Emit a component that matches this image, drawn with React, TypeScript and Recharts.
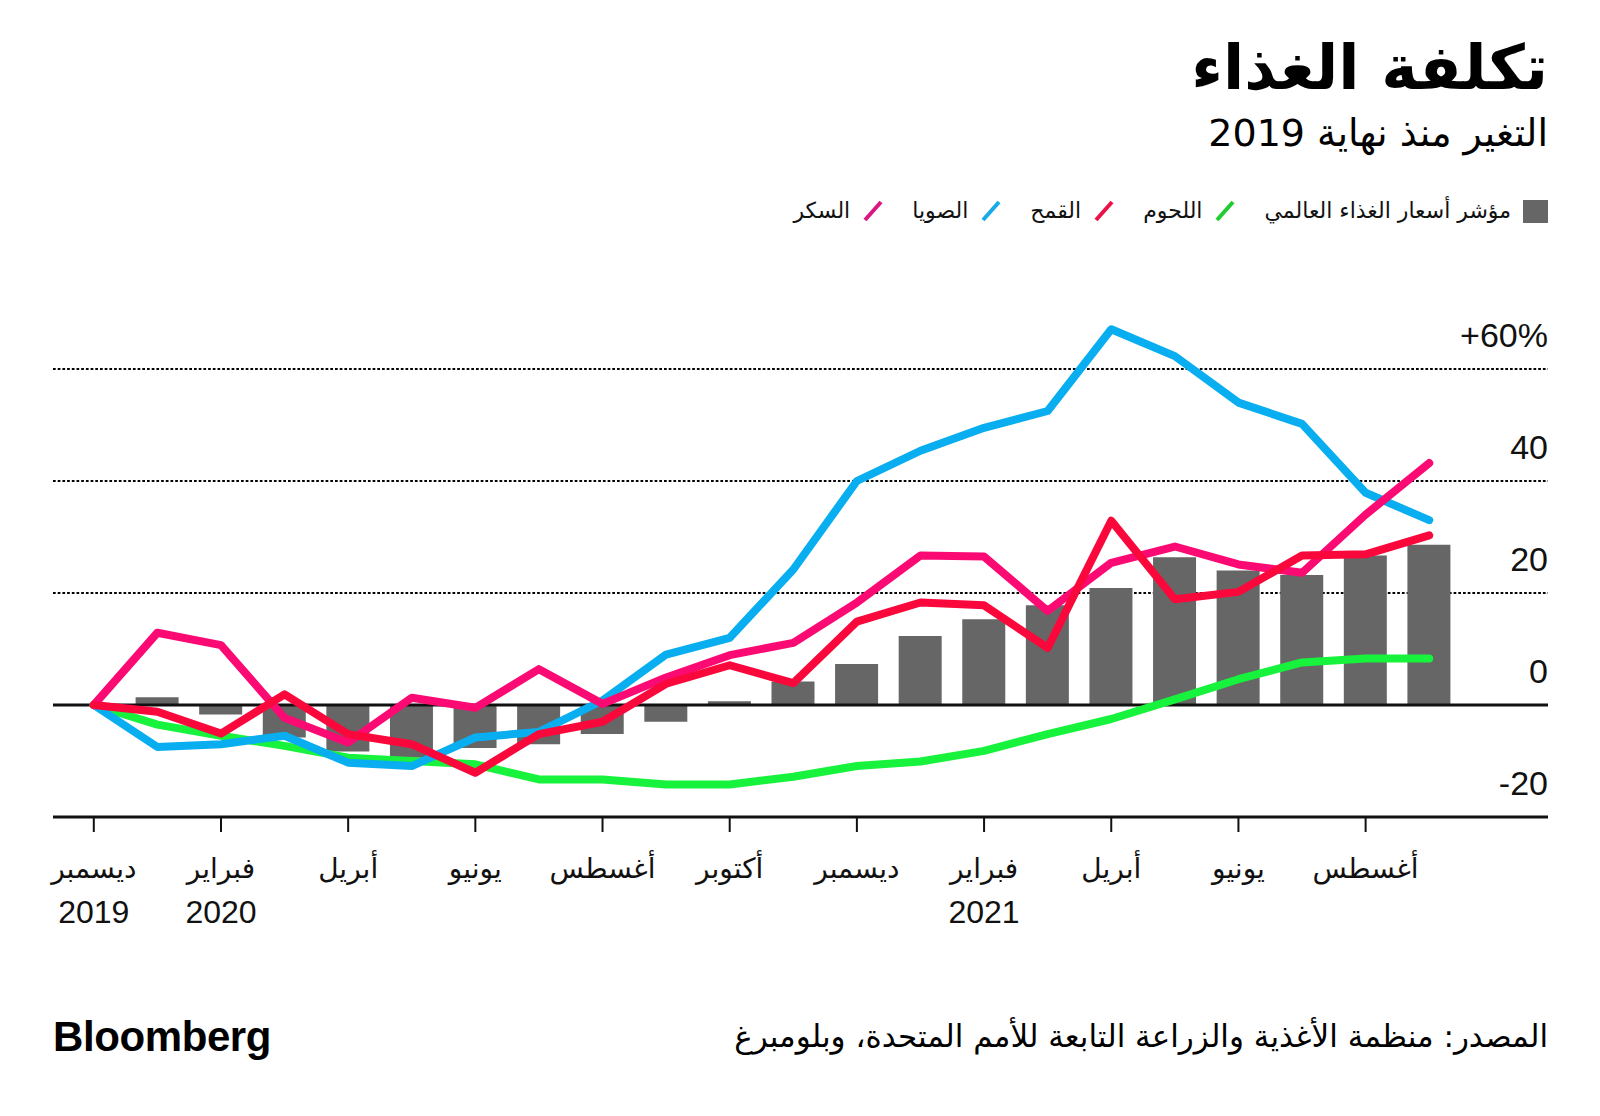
import React from "react";
import { ComposedChart, Bar, Line, XAxis, YAxis, CartesianGrid, ReferenceLine } from "recharts";

const CATEGORIES = [
  "2019-12", "2020-01", "2020-02", "2020-03", "2020-04", "2020-05", "2020-06", "2020-07",
  "2020-08", "2020-09", "2020-10", "2020-11", "2020-12", "2021-01", "2021-02", "2021-03",
  "2021-04", "2021-05", "2021-06", "2021-07", "2021-08", "2021-09",
];
const MONTH_LABELS = [
  "ديسمبر", "", "فبراير", "", "أبريل", "", "يونيو", "", "أغسطس", "", "أكتوبر", "",
  "ديسمبر", "", "فبراير", "", "أبريل", "", "يونيو", "", "أغسطس", "",
];
const YEAR_LABELS = [
  "2019", "", "2020", "", "", "", "", "", "", "", "", "",
  "", "", "2021", "", "", "", "", "", "", "",
];
const FOOD_INDEX = [0, 1.4, -1.7, -5.8, -8.3, -9.4, -7.7, -7.0, -5.2, -3.0, 0.65, 4.2, 7.3, 12.3, 15.3, 17.8, 20.9, 26.4, 24.0, 23.2, 26.7, 28.6];
const MEAT = [0, -3.5, -5.5, -7.3, -9.4, -10.0, -10.6, -13.3, -13.3, -14.2, -14.2, -12.8, -10.9, -10.1, -8.2, -5.2, -2.5, 1.0, 4.6, 7.6, 8.3, 8.3];
const WHEAT = [0, -1.2, -5.1, 1.9, -5.2, -7.0, -12.1, -5.2, -3.0, 3.8, 7.1, 3.9, 14.9, 18.3, 17.8, 10.2, 32.9, 18.9, 20.2, 26.7, 26.9, 30.3];
const SOY = [0, -7.5, -7.0, -5.5, -10.3, -10.9, -5.8, -4.8, 0.8, 9.0, 12.0, 24.2, 40.0, 45.4, 49.5, 52.5, 67.1, 62.3, 54.0, 50.2, 37.9, 33.0];
const SUGAR = [0, 12.9, 10.7, -2.3, -6.7, 1.3, -0.5, 6.4, 0.2, 4.9, 8.9, 11.1, 18.3, 26.7, 26.5, 16.8, 25.4, 28.3, 25.1, 23.6, 34.0, 43.2];

const Y_TICKS = [-20, 0, 20, 40, 60];
const Y_TICK_LABELS = ["-20", "0", "20", "40", "+60%"];
const GRID_VALUES = [20, 40, 60];

const TITLE = "تكلفة الغذاء";
const SUBTITLE = "التغير منذ نهاية 2019";
const SOURCE = "المصدر: منظمة الأغذية والزراعة التابعة للأمم المتحدة، وبلومبرغ";

const C_BAR = "#666666";
const C_MEAT = "#17f23d";
const C_WHEAT = "#fa083c";
const C_SOY = "#08aef0";
const C_SUGAR = "#fc0a74";

const LEGEND = [
  { label: "مؤشر أسعار الغذاء العالمي", color: C_BAR, kind: "square" },
  { label: "اللحوم", color: "#20cc30", kind: "slash" },
  { label: "القمح", color: "#ec1248", kind: "slash" },
  { label: "الصويا", color: "#18aae8", kind: "slash" },
  { label: "السكر", color: "#dc1680", kind: "slash" },
];

const LATIN = "'Liberation Sans', 'DejaVu Sans', sans-serif";
const ARABIC = "'DejaVu Sans', 'Liberation Sans', sans-serif";

const data = CATEGORIES.map((c, i) => ({
  key: c,
  food: FOOD_INDEX[i],
  meat: MEAT[i],
  wheat: WHEAT[i],
  soy: SOY[i],
  sugar: SUGAR[i],
}));

const XTick = (props: any) => {
  const { x, y, payload } = props;
  const i = CATEGORIES.indexOf(payload.value);
  return (
    <g>
      <text x={x} y={y + 44} textAnchor="middle" fontFamily={ARABIC} fontSize={28} fill="#111">
        {MONTH_LABELS[i]}
      </text>
      {YEAR_LABELS[i] ? (
        <text x={x} y={y + 89} textAnchor="middle" fontFamily={LATIN} fontSize={32} fill="#111">
          {YEAR_LABELS[i]}
        </text>
      ) : null}
    </g>
  );
};

const YTick = (props: any) => {
  const { y, payload } = props;
  const i = Y_TICKS.indexOf(payload.value);
  return (
    <text x={1548} y={y - 22} textAnchor="end" fontFamily={LATIN} fontSize={34} fill="#111">
      {Y_TICK_LABELS[i]}
    </text>
  );
};

const textBlock = (top: number, size: number, weight: string): React.CSSProperties => ({
  position: "absolute",
  right: 52,
  top,
  fontSize: size,
  lineHeight: `${size}px`,
  fontWeight: weight as any,
  fontFamily: ARABIC,
  direction: "rtl",
  textAlign: "right",
  whiteSpace: "nowrap",
  color: "#000",
});

export default function App() {
  return (
    <div style={{ position: "absolute", left: 0, top: 0, width: 1600, height: 1116, background: "#fff", overflow: "hidden" }}>
      <ComposedChart
        width={1600}
        height={1116}
        data={data}
        margin={{ top: 313, right: 51, bottom: 179, left: 53 }}
      >
        <CartesianGrid
          horizontal={true}
          vertical={false}
          horizontalValues={GRID_VALUES}
          stroke="#000"
          strokeWidth={2.2}
          strokeDasharray="2.7 2"
        />
        <XAxis
          dataKey="key"
          type="category"
          interval={1}
          height={120}
          padding={{ left: 9, right: 87 }}
          axisLine={{ stroke: "#111", strokeWidth: 3 }}
          tickLine={{ stroke: "#111", strokeWidth: 2 }}
          tickSize={15}
          tick={<XTick />}
        />
        <YAxis
          orientation="right"
          width={1}
          domain={[-20, 70]}
          ticks={Y_TICKS}
          axisLine={false}
          tickLine={false}
          tick={<YTick />}
        />
        <Bar dataKey="food" fill={C_BAR} barSize={43} isAnimationActive={false} />
        <ReferenceLine y={0} stroke="#111" strokeWidth={3} />
        <Line dataKey="meat" type="linear" stroke={C_MEAT} strokeWidth={8} dot={false} strokeLinejoin="round" strokeLinecap="round" isAnimationActive={false} />
        <Line dataKey="soy" type="linear" stroke={C_SOY} strokeWidth={8} dot={false} strokeLinejoin="round" strokeLinecap="round" isAnimationActive={false} />
        <Line dataKey="sugar" type="linear" stroke={C_SUGAR} strokeWidth={8} dot={false} strokeLinejoin="round" strokeLinecap="round" isAnimationActive={false} />
        <Line dataKey="wheat" type="linear" stroke={C_WHEAT} strokeWidth={8} dot={false} strokeLinejoin="round" strokeLinecap="round" isAnimationActive={false} />
      </ComposedChart>

      <div style={textBlock(37, 62, "bold")}>{TITLE}</div>
      <div style={textBlock(114, 38, "normal")}>{SUBTITLE}</div>
      <div style={textBlock(1021, 31, "normal")}>{SOURCE}</div>
      <div
        style={{
          position: "absolute",
          left: 53,
          top: 1016,
          fontFamily: LATIN,
          fontWeight: "bold",
          fontSize: 42,
          lineHeight: "42px",
          letterSpacing: -0.4,
          color: "#000",
        }}
      >
        Bloomberg
      </div>

      <div
        style={{
          position: "absolute",
          right: 52,
          top: 198,
          height: 26,
          display: "flex",
          flexDirection: "row",
          direction: "rtl",
          alignItems: "center",
          gap: 28,
          fontFamily: ARABIC,
          fontSize: 22,
          color: "#111",
        }}
      >
        {LEGEND.map((item) => (
          <div key={item.label} style={{ display: "flex", flexDirection: "row", alignItems: "center", gap: 12 }}>
            {item.kind === "square" ? (
              <div style={{ width: 25, height: 23, background: item.color }} />
            ) : (
              <svg width={22} height={24}>
                <line x1={3} y1={21} x2={19} y2={3} stroke={item.color} strokeWidth={4} />
              </svg>
            )}
            <span style={{ lineHeight: "26px", whiteSpace: "nowrap" }}>{item.label}</span>
          </div>
        ))}
      </div>
    </div>
  );
}
